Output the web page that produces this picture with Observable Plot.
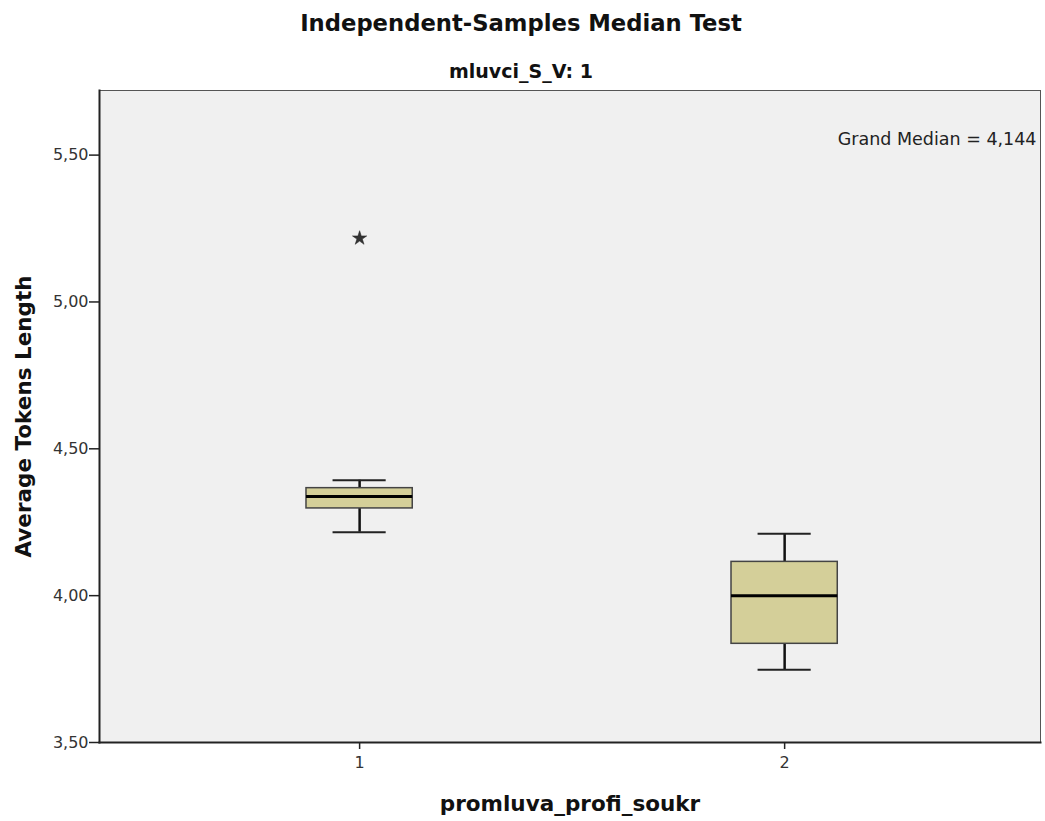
<!DOCTYPE html>
<html>
<head>
<meta charset="utf-8">
<script src="https://cdn.jsdelivr.net/npm/d3@7"></script>
<script src="https://cdn.jsdelivr.net/npm/@observablehq/plot@0.6"></script>
<style>
  body { margin: 0; background: #fff; }
  svg { display: block; }
</style>
</head>
<body>
<div id="chart"></div>
<script>
const groups = [1, 2];
const whiskerLow = [4.216, 3.748];
const q1 = [4.297, 3.836];
const median = [4.338, 4.000];
const q3 = [4.366, 4.115];
const whiskerHigh = [4.393, 4.211];
const outlierGroup = [1];
const outlierValue = [5.217];
const yTicks = [3.5, 4.0, 4.5, 5.0, 5.5];
const xTicks = [1, 2];
const grandMedian = 4.144;

const boxes = groups.map((g, i) => ({
  g, lo: whiskerLow[i], q1: q1[i], med: median[i], q3: q3[i], hi: whiskerHigh[i]
}));
const outliers = outlierGroup.map((g, i) => ({g, v: outlierValue[i]}));

const halfBox = 0.125, halfCap = 0.0625;
const fmt = d => d3.format(".2f")(d).replace(".", ",");
const font = "DejaVu Sans, sans-serif";

const chart = Plot.plot({
  width: 1045,
  height: 821,
  marginTop: 90,
  marginLeft: 99,
  marginRight: 5,
  marginBottom: 79,
  style: {fontFamily: font, background: "#fff"},
  x: {type: "linear", domain: [0.388, 2.602]},
  y: {domain: [3.5, 5.72]},
  marks: [
    Plot.frame({fill: "#f0f0f0", stroke: "#555", strokeWidth: 1}),
    Plot.frame({anchor: "left", stroke: "#222", strokeWidth: 2}),
    Plot.frame({anchor: "bottom", stroke: "#222", strokeWidth: 2}),
    Plot.axisY({ticks: yTicks, tickFormat: fmt, tickSize: 10, tickPadding: 1, label: null,
      fontSize: 16, fill: "#333", stroke: "#222", strokeWidth: 1.5}),
    Plot.axisX({ticks: xTicks, tickFormat: d => String(d), tickSize: 7, tickPadding: 7, label: null,
      fontSize: 16, fill: "#333", stroke: "#222", strokeWidth: 1.5}),
    // whiskers
    Plot.ruleX(boxes, {x: "g", y1: "lo", y2: "q1", stroke: "#111", strokeWidth: 2.5}),
    Plot.ruleX(boxes, {x: "g", y1: "q3", y2: "hi", stroke: "#111", strokeWidth: 2.5}),
    Plot.ruleY(boxes, {y: "lo", x1: d => d.g - halfCap, x2: d => d.g + halfCap, stroke: "#222", strokeWidth: 2}),
    Plot.ruleY(boxes, {y: "hi", x1: d => d.g - halfCap, x2: d => d.g + halfCap, stroke: "#222", strokeWidth: 2}),
    // boxes
    Plot.rect(boxes, {x1: d => d.g - halfBox, x2: d => d.g + halfBox, y1: "q1", y2: "q3",
      fill: "#d4cf99", stroke: "#444", strokeWidth: 1.5}),
    Plot.ruleY(boxes, {y: "med", x1: d => d.g - halfBox, x2: d => d.g + halfBox, stroke: "#000", strokeWidth: 3}),
    // outlier
    Plot.dot(outliers, {x: "g", y: "v", symbol: "star", r: 4.5, fill: "#333", stroke: "#222", strokeWidth: 0.5}),
    // grand median label
    Plot.text([`Grand Median = ${String(grandMedian).replace(".", ",")}`], {frameAnchor: "top-right", dx: -4, dy: 49,
      lineAnchor: "middle", fontSize: 17.5, fill: "#222"}),
    // titles
    Plot.text(["Independent-Samples Median Test"], {frameAnchor: "top", dx: -49, dy: -67, lineAnchor: "middle",
      fontSize: 22.7, fontWeight: "bold", fill: "#111"}),
    Plot.text(["mluvci_S_V: 1"], {frameAnchor: "top", dx: -49, dy: -19, lineAnchor: "middle",
      fontSize: 19, fontWeight: "bold", fill: "#111"}),
    Plot.text(["promluva_profi_soukr"], {frameAnchor: "bottom", dy: 62, lineAnchor: "middle",
      fontSize: 21.5, fontWeight: "bold", fill: "#111"}),
    Plot.text(["Average Tokens Length"], {frameAnchor: "left", dx: -75, rotate: -90, lineAnchor: "middle",
      textAnchor: "middle", fontSize: 21.5, fontWeight: "bold", fill: "#111"})
  ]
});
document.getElementById("chart").appendChild(chart);
</script>
</body>
</html>
